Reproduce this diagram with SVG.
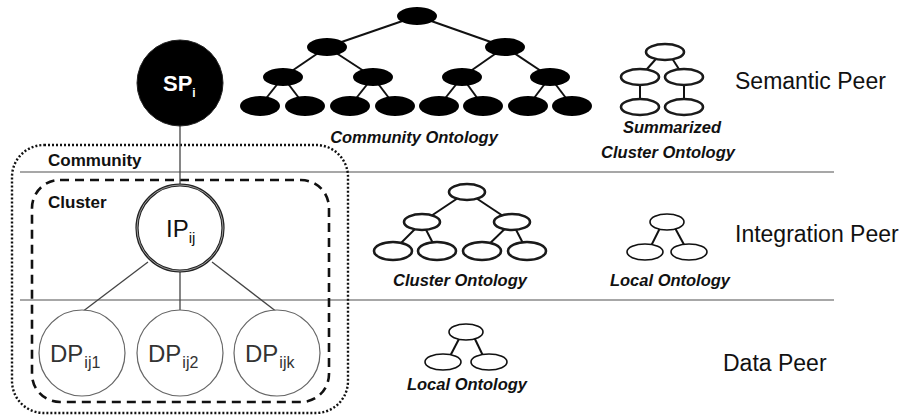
<svg xmlns="http://www.w3.org/2000/svg" width="909" height="419" viewBox="0 0 909 419">
  <style>
    text { font-family: "Liberation Sans", Arial, sans-serif; }
    .sep { stroke: #8a8a8a; stroke-width: 1.5; }
    .link { stroke: #444; stroke-width: 1.3; fill: none; }
    .tl { stroke: #111; stroke-width: 2; }
    .blk { fill: #000; }
    .thk { fill: #fff; stroke: #1a1a1a; stroke-width: 2.6; }
    .thn { fill: #fff; stroke: #111; stroke-width: 1.6; }
    .peer { font-size: 23px; fill: #111; }
    .onto { font-size: 16.5px; font-weight: bold; font-style: italic; fill: #111; }
    .grp { font-size: 17px; font-weight: bold; fill: #111; }
    .dp { fill: #fff; stroke: #666; stroke-width: 1.2; }
    .dpt { font-size: 24px; fill: #333; }
    .dps { font-size: 16px; fill: #333; }
  </style>

  <!-- layer separators -->
  <g id="separators">
    <line class="sep" x1="20" y1="172" x2="834" y2="172"/>
    <line class="sep" x1="20" y1="300" x2="834" y2="300"/>
  </g>

  <!-- community and cluster boundaries -->
  <g id="community">
    <rect x="12" y="145" width="336" height="268" rx="32" fill="none" stroke="#111" stroke-width="2.4" stroke-dasharray="2 2"/>
    <text class="grp" x="48" y="166">Community</text>
  </g>
  <g id="cluster">
    <rect x="32" y="180" width="297" height="222" rx="28" fill="none" stroke="#111" stroke-width="2.6" stroke-dasharray="9 6"/>
    <text class="grp" x="48" y="208">Cluster</text>
  </g>

  <!-- connectors between peers -->
  <g id="connectors">
    <line class="link" x1="180" y1="126" x2="180" y2="186"/>
    <line class="link" x1="148" y1="262" x2="82" y2="312"/>
    <line class="link" x1="180" y1="271" x2="180" y2="312"/>
    <line class="link" x1="212" y1="262" x2="277" y2="312"/>
  </g>

  <!-- semantic peer -->
  <g id="sp">
    <circle cx="180" cy="83" r="43" fill="#000" stroke="#222" stroke-width="1"/>
    <text x="163" y="91" font-size="22" font-weight="bold" fill="#fff">SP<tspan font-size="12" dy="6">i</tspan></text>
  </g>

  <!-- integration peer -->
  <g id="ip">
    <circle cx="180" cy="228" r="43" fill="#fff" stroke="#222" stroke-width="3.2"/>
    <circle cx="180" cy="228" r="43" fill="none" stroke="#bbb" stroke-width="0.8"/>
    <text x="166" y="237" font-size="24" fill="#111">IP<tspan font-size="15" dy="6">ij</tspan></text>
  </g>

  <!-- data peers -->
  <g id="dp1">
    <circle class="dp" cx="82" cy="353" r="43"/>
    <text class="dpt" x="50" y="362">DP<tspan class="dps" dy="6" dx="1">ij1</tspan></text>
  </g>
  <g id="dp2">
    <circle class="dp" cx="180" cy="353" r="43"/>
    <text class="dpt" x="148" y="362">DP<tspan class="dps" dy="6" dx="1">ij2</tspan></text>
  </g>
  <g id="dpk">
    <circle class="dp" cx="277" cy="353" r="43"/>
    <text class="dpt" x="245" y="362">DP<tspan class="dps" dy="6" dx="1">ijk</tspan></text>
  </g>

  <!-- community ontology (filled tree) -->
  <g id="community-ontology">
    <g class="tl">
      <line x1="417" y1="16" x2="327" y2="47"/>
      <line x1="417" y1="16" x2="505" y2="47"/>
      <line x1="327" y1="47" x2="283" y2="77"/>
      <line x1="327" y1="47" x2="373" y2="77"/>
      <line x1="505" y1="47" x2="462" y2="77"/>
      <line x1="505" y1="47" x2="550" y2="77"/>
      <line x1="283" y1="77" x2="260" y2="106"/>
      <line x1="283" y1="77" x2="305" y2="106"/>
      <line x1="373" y1="77" x2="350" y2="106"/>
      <line x1="373" y1="77" x2="395" y2="106"/>
      <line x1="462" y1="77" x2="439" y2="106"/>
      <line x1="462" y1="77" x2="483" y2="106"/>
      <line x1="550" y1="77" x2="528" y2="106"/>
      <line x1="550" y1="77" x2="572" y2="106"/>
    </g>
    <g class="blk">
      <ellipse cx="417" cy="16" rx="20" ry="9"/>
      <ellipse cx="327" cy="47" rx="20" ry="9"/>
      <ellipse cx="505" cy="47" rx="20" ry="9"/>
      <ellipse cx="283" cy="77" rx="20" ry="9"/>
      <ellipse cx="373" cy="77" rx="20" ry="9"/>
      <ellipse cx="462" cy="77" rx="20" ry="9"/>
      <ellipse cx="550" cy="77" rx="20" ry="9"/>
      <ellipse cx="260" cy="106" rx="20" ry="10"/>
      <ellipse cx="305" cy="106" rx="20" ry="10"/>
      <ellipse cx="350" cy="106" rx="20" ry="10"/>
      <ellipse cx="395" cy="106" rx="20" ry="10"/>
      <ellipse cx="439" cy="106" rx="20" ry="10"/>
      <ellipse cx="483" cy="106" rx="20" ry="10"/>
      <ellipse cx="528" cy="106" rx="20" ry="10"/>
      <ellipse cx="572" cy="106" rx="20" ry="10"/>
    </g>
    <text class="onto" x="414" y="143" text-anchor="middle">Community Ontology</text>
  </g>

  <!-- summarized cluster ontology -->
  <g id="summarized-ontology">
    <g class="tl" stroke-width="1.5">
      <line x1="662" y1="52" x2="640" y2="77"/>
      <line x1="668" y1="52" x2="684" y2="77"/>
      <line x1="640" y1="77" x2="640" y2="107"/>
      <line x1="684" y1="77" x2="684" y2="107"/>
    </g>
    <ellipse class="thk" cx="665" cy="52" rx="19" ry="8"/>
    <ellipse class="thk" cx="640" cy="77" rx="19" ry="8"/>
    <ellipse class="thk" cx="684" cy="77" rx="19" ry="8"/>
    <ellipse class="thk" cx="640" cy="107" rx="19" ry="8"/>
    <ellipse class="thk" cx="684" cy="107" rx="19" ry="8"/>
    <text class="onto" x="672" y="133" text-anchor="middle">Summarized</text>
    <text class="onto" x="668" y="158" text-anchor="middle">Cluster Ontology</text>
  </g>

  <!-- cluster ontology -->
  <g id="cluster-ontology">
    <g class="tl" stroke-width="1.5">
      <line x1="467" y1="192" x2="422" y2="222"/>
      <line x1="467" y1="192" x2="512" y2="222"/>
      <line x1="422" y1="222" x2="393" y2="251"/>
      <line x1="422" y1="222" x2="437" y2="251"/>
      <line x1="512" y1="222" x2="482" y2="251"/>
      <line x1="512" y1="222" x2="527" y2="251"/>
    </g>
    <ellipse class="thk" cx="467" cy="192" rx="18" ry="8"/>
    <ellipse class="thk" cx="422" cy="222" rx="18" ry="8"/>
    <ellipse class="thk" cx="512" cy="222" rx="18" ry="8"/>
    <ellipse class="thk" cx="393" cy="251" rx="19" ry="9"/>
    <ellipse class="thk" cx="437" cy="251" rx="19" ry="9"/>
    <ellipse class="thk" cx="482" cy="251" rx="19" ry="9"/>
    <ellipse class="thk" cx="527" cy="251" rx="19" ry="9"/>
    <text class="onto" x="460" y="286" text-anchor="middle">Cluster Ontology</text>
  </g>

  <!-- local ontology at the integration layer -->
  <g id="local-ontology-ip">
    <g class="tl" stroke-width="1.5">
      <line x1="660" y1="228" x2="648" y2="252"/>
      <line x1="675" y1="228" x2="688" y2="252"/>
    </g>
    <ellipse class="thn" cx="667" cy="222" rx="17" ry="8"/>
    <ellipse class="thn" cx="645" cy="252" rx="18" ry="8"/>
    <ellipse class="thn" cx="689" cy="252" rx="18" ry="8"/>
    <text class="onto" x="670" y="286" text-anchor="middle">Local Ontology</text>
  </g>

  <!-- local ontology at the data layer -->
  <g id="local-ontology-dp">
    <g class="tl" stroke-width="1.5">
      <line x1="460" y1="337" x2="447" y2="362"/>
      <line x1="474" y1="337" x2="486" y2="362"/>
    </g>
    <ellipse class="thn" cx="466" cy="332" rx="17" ry="8"/>
    <ellipse class="thn" cx="443" cy="362" rx="18" ry="8"/>
    <ellipse class="thn" cx="489" cy="362" rx="18" ry="8"/>
    <text class="onto" x="467" y="390" text-anchor="middle">Local Ontology</text>
  </g>

  <!-- layer names -->
  <g id="layer-labels">
    <text class="peer" x="735" y="89">Semantic Peer</text>
    <text class="peer" x="735" y="242">Integration Peer</text>
    <text class="peer" x="723" y="371">Data Peer</text>
  </g>
</svg>
